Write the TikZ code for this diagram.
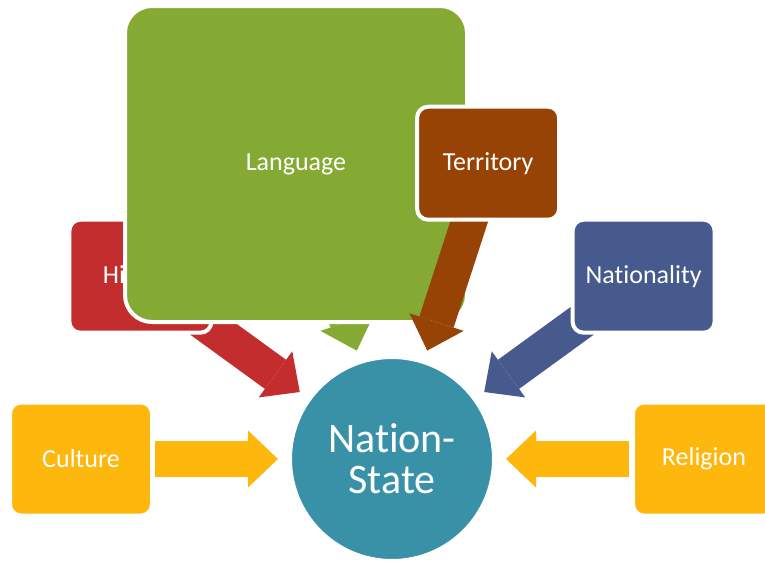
\documentclass[tikz,border=0pt]{standalone}
\usepackage{fontspec}
\setmainfont{Carlito}[Ligatures={NoCommon}]
\usetikzlibrary{arrows.meta}
\definecolor{cYel}{RGB}{253,183,13}
\definecolor{cRed}{RGB}{195,45,46}
\definecolor{cGrn}{RGB}{132,170,51}
\definecolor{cBrn}{RGB}{150,67,5}
\definecolor{cBlu}{RGB}{71,90,141}
\definecolor{cTeal}{RGB}{57,145,167}
\begin{document}
\begin{tikzpicture}[x=1pt,y=1pt,
  box/.style={draw=white, line width=4pt, rounded corners=11pt, minimum width=142pt,
    minimum height=113pt, inner sep=0pt, text=white, font=\fontsize{26}{30}\selectfont},
  blk/.style={line width=36pt, -{Triangle[width=57pt,length=30pt,line width=0pt]}}]
\clip (0,0) rectangle (765,-560);
\fill[white] (0,0) rectangle (765,-560);
\node[circle, fill=cTeal, draw=white, line width=4pt, minimum size=204pt, inner sep=0pt,
  text=white, align=center, font=\fontsize{42}{41}\selectfont] (ns) at (392,-459) {Nation-\\State};
% Culture
\coordinate (cT) at ([shift={(180:237)}]ns.center);
\coordinate (cP) at ([shift={(180:114)}]ns.center);
\draw[blk, cYel] (cT) -- (cP);
\node[box, fill=cYel] (cul) at ([shift={(180:311)}]ns.center) {Culture};
% History
\coordinate (hT) at ([shift={(144:270)}]ns.center);
\coordinate (hP) at ([shift={(144:114)}]ns.center);
\draw[blk, cRed] (hT) -- (hP);
\node[box, fill=cRed] (his) at ([shift={(144:311)}]ns.center) {History};
% Language
\coordinate (lT) at ([shift={(108:270)}]ns.center);
\coordinate (lP) at ([shift={(108:114)}]ns.center);
\draw[blk, cGrn] (lT) -- (lP);
\node[box, fill=cGrn, minimum width=342pt, minimum height=316pt, rounded corners=27pt] (lan) at (296,-164) {Language};
% Territory
\coordinate (tT) at ([shift={(72:275)}]ns.center);
\coordinate (tP) at ([shift={(72:114)}]ns.center);
\draw[blk, cBrn] (tT) -- (tP);
\node[box, fill=cBrn] (ter) at ([shift={(72:311)}]ns.center) {Territory};
% Nationality
\coordinate (nT) at ([shift={(36:270)}]ns.center);
\coordinate (nP) at ([shift={(36:114)}]ns.center);
\draw[blk, cBlu] (nT) -- (nP);
\node[box, fill=cBlu] (nat) at ([shift={(36:311)}]ns.center) {Nationality};
% Religion
\coordinate (rT) at ([shift={(0:237)}]ns.center);
\coordinate (rP) at ([shift={(0:114)}]ns.center);
\draw[blk, cYel] (rT) -- (rP);
\node[box, fill=cYel] (rel) at ([shift={(0:312)}]ns.center) {Religion};
\end{tikzpicture}
\end{document}
